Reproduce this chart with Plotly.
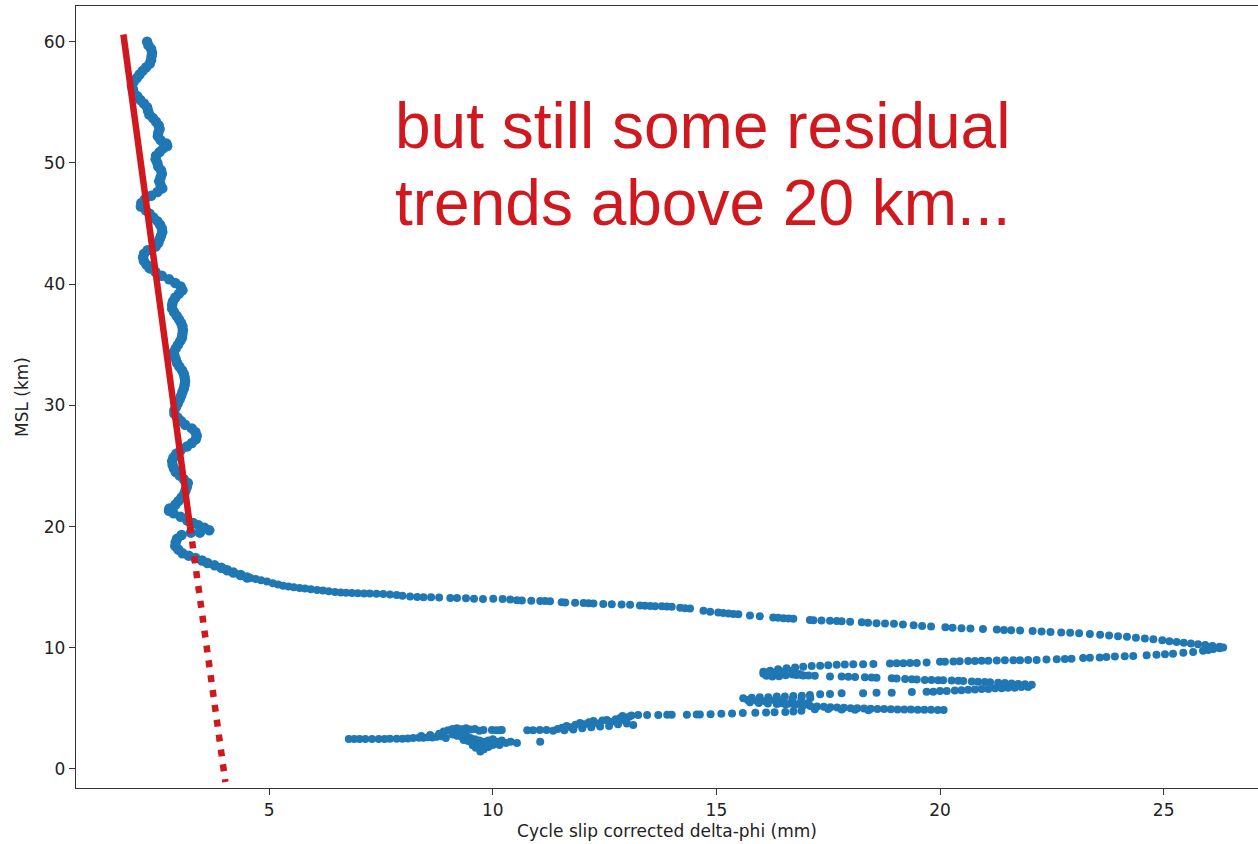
import plotly.graph_objects as go

# Delta-phi (mm) vs. altitude above mean sea level (km), listed as (x, y) along the profile
strat_track = [
    (2.27, 60.0), (2.30, 59.7), (2.36, 59.4), (2.38, 59.1), (2.37, 58.8), (2.36, 58.5),
    (2.33, 58.2), (2.25, 57.9), (2.17, 57.6), (2.10, 57.3), (2.04, 57.0), (1.97, 56.7),
    (1.93, 56.4), (1.95, 56.1), (1.97, 55.8), (2.05, 55.5), (2.12, 55.2), (2.20, 54.9),
    (2.27, 54.6), (2.29, 54.3), (2.32, 54.0), (2.40, 53.7), (2.47, 53.4), (2.53, 53.1),
    (2.55, 52.8), (2.52, 52.5), (2.51, 52.2), (2.57, 51.9), (2.70, 51.6), (2.72, 51.4),
    (2.63, 51.2), (2.55, 50.9), (2.47, 50.6), (2.46, 50.3), (2.50, 50.0), (2.52, 49.7),
    (2.58, 49.4), (2.60, 49.1), (2.57, 48.8), (2.54, 48.5), (2.57, 48.2), (2.61, 47.9),
    (2.50, 47.6), (2.36, 47.3), (2.22, 47.0), (2.14, 46.7), (2.13, 46.4), (2.24, 46.1),
    (2.33, 45.8), (2.41, 45.5), (2.50, 45.2), (2.56, 44.9), (2.60, 44.6), (2.61, 44.3),
    (2.58, 44.0), (2.55, 43.7), (2.52, 43.4), (2.46, 43.1), (2.28, 42.8), (2.20, 42.5),
    (2.18, 42.2), (2.20, 41.9), (2.26, 41.6), (2.33, 41.3), (2.46, 41.0), (2.60, 40.7),
    (2.76, 40.4), (2.90, 40.1), (3.02, 39.8), (3.06, 39.5), (2.98, 39.2), (2.90, 38.9),
    (2.85, 38.6), (2.83, 38.3), (2.83, 38.0), (2.87, 37.7), (2.93, 37.4), (2.98, 37.1),
    (3.03, 36.8), (3.06, 36.5), (3.07, 36.2), (3.06, 35.9), (3.05, 35.6), (3.01, 35.3),
    (2.96, 35.0), (2.91, 34.7), (2.87, 34.4), (2.88, 34.1), (2.91, 33.8), (2.94, 33.5),
    (2.99, 33.2), (3.05, 32.9), (3.09, 32.6), (3.11, 32.3), (3.12, 32.0), (3.11, 31.7),
    (3.09, 31.4), (3.06, 31.1), (3.03, 30.8), (3.00, 30.5), (2.96, 30.2), (2.92, 29.9),
    (2.88, 29.6), (2.88, 29.3), (2.95, 29.0), (3.03, 28.7), (3.12, 28.4), (3.27, 28.1),
    (3.35, 27.8), (3.38, 27.5), (3.36, 27.2), (3.27, 26.9), (3.16, 26.6), (3.02, 26.3),
    (2.92, 26.0), (2.86, 25.7), (2.83, 25.4), (2.84, 25.1), (2.87, 24.8), (2.91, 24.5),
    (3.00, 24.2), (3.09, 23.9), (3.18, 23.6), (3.16, 23.3), (3.13, 23.0), (3.10, 22.7),
    (3.04, 22.4), (2.97, 22.1), (2.90, 21.8), (2.77, 21.5), (2.76, 21.3), (2.86, 21.1),
    (3.02, 20.8), (3.17, 20.5), (3.30, 20.3), (3.42, 20.1), (3.55, 19.9), (3.66, 19.7),
    (3.45, 19.5), (3.25, 19.5), (3.04, 19.3), (2.94, 19.0), (2.91, 18.7), (2.90, 18.4),
    (2.97, 18.1), (3.06, 17.8), (3.20, 17.6), (3.35, 17.4), (3.50, 17.2), (3.62, 17.0),
    (3.78, 16.8), (3.93, 16.6), (4.06, 16.4), (4.20, 16.2), (4.36, 16.0), (4.51, 15.8),
]

outgoing_branch = [
    (4.58, 15.76), (4.70, 15.68), (4.82, 15.58), (4.95, 15.47), (5.08, 15.33), (5.20, 15.22),
    (5.31, 15.12), (5.43, 15.05), (5.55, 15.00), (5.68, 14.93), (5.80, 14.88), (5.93, 14.82),
    (6.07, 14.77), (6.20, 14.72), (6.33, 14.66), (6.47, 14.61), (6.60, 14.57), (6.72, 14.54),
    (6.85, 14.52), (6.98, 14.50), (7.12, 14.48), (7.25, 14.47), (7.40, 14.45), (7.55, 14.44),
    (7.70, 14.40), (7.85, 14.35), (7.98, 14.30), (8.15, 14.24), (8.31, 14.19), (8.45, 14.17),
    (8.62, 14.16), (8.80, 14.14), (9.05, 14.11), (9.20, 14.10), (9.40, 14.08), (9.58, 14.05),
    (9.78, 14.03), (10.01, 14.05), (10.22, 14.02), (10.39, 13.98), (10.54, 13.92), (10.65, 13.90),
    (10.86, 13.88), (11.06, 13.86), (11.17, 13.85), (11.28, 13.83), (11.54, 13.76), (11.62, 13.74),
    (11.84, 13.72), (12.03, 13.70), (12.14, 13.68), (12.25, 13.66), (12.47, 13.62), (12.66, 13.59),
    (12.88, 13.57), (13.07, 13.54), (13.29, 13.48), (13.40, 13.46), (13.52, 13.45), (13.63, 13.43),
    (13.78, 13.42), (13.89, 13.40), (14.00, 13.38), (14.19, 13.30), (14.30, 13.27), (14.41, 13.24),
    (14.71, 13.05), (14.86, 12.98), (15.04, 12.90), (15.15, 12.86), (15.27, 12.83), (15.38, 12.79),
    (15.49, 12.76), (15.75, 12.66), (15.97, 12.60), (16.27, 12.50), (16.38, 12.47), (16.50, 12.44),
    (16.61, 12.42), (16.72, 12.40), (17.09, 12.30), (17.17, 12.28), (17.35, 12.25), (17.54, 12.22),
    (17.69, 12.20), (17.80, 12.18), (17.99, 12.15), (18.25, 12.10), (18.39, 12.07), (18.58, 12.03),
    (18.77, 12.01), (18.97, 11.98), (19.17, 11.92), (19.41, 11.86), (19.60, 11.80), (19.80, 11.76),
    (20.12, 11.70), (20.28, 11.66), (20.48, 11.62), (20.68, 11.59), (20.96, 11.55), (21.27, 11.50),
    (21.43, 11.47), (21.59, 11.45), (21.79, 11.42), (22.07, 11.38), (22.27, 11.35), (22.47, 11.31),
    (22.71, 11.27), (22.91, 11.23), (23.11, 11.19), (23.35, 11.13), (23.58, 11.07), (23.78, 11.02),
    (23.98, 10.96), (24.18, 10.90), (24.38, 10.83), (24.58, 10.77), (24.77, 10.70), (24.97, 10.62),
    (25.13, 10.53), (25.29, 10.47), (25.45, 10.41), (25.61, 10.35), (25.77, 10.29), (25.93, 10.22),
    (26.09, 10.15), (26.25, 10.08), (26.33, 10.02),
]

return_branch = [
    (26.25, 9.95), (26.11, 9.90), (26.00, 9.82), (25.88, 9.76), (25.66, 9.66), (25.44, 9.58),
    (25.21, 9.51), (25.03, 9.46), (24.84, 9.43), (24.62, 9.38), (24.32, 9.32), (24.13, 9.30),
    (23.91, 9.27), (23.72, 9.24), (23.57, 9.19), (23.35, 9.17), (23.20, 9.15), (22.94, 9.10),
    (22.79, 9.08), (22.61, 9.05), (22.38, 9.03), (22.16, 9.00), (21.97, 8.99), (21.79, 8.98),
    (21.64, 8.97), (21.45, 8.96), (21.27, 8.94), (21.08, 8.93), (20.93, 8.92), (20.78, 8.91),
    (20.63, 8.90), (20.44, 8.88), (20.30, 8.87), (20.11, 8.85), (20.00, 8.84), (19.70, 8.78),
    (19.48, 8.75), (19.33, 8.74), (19.18, 8.73), (19.03, 8.72), (18.88, 8.71), (18.51, 8.67),
    (18.28, 8.65), (18.06, 8.63), (17.87, 8.61), (17.69, 8.59), (17.50, 8.55), (17.32, 8.52),
    (17.13, 8.49), (16.94, 8.44), (16.76, 8.37), (16.57, 8.31), (16.38, 8.22), (16.20, 8.11),
    (16.05, 8.03), (16.05, 7.85), (16.12, 7.70), (16.25, 7.62), (16.40, 7.66), (16.55, 7.74),
    (16.70, 7.80), (16.85, 7.84), (16.30, 7.95), (16.50, 8.05), (16.70, 8.10), (16.20, 7.80),
    (16.95, 7.72), (16.15, 7.95), (16.40, 7.85),
]

layer_7km = [
    (16.79, 7.76), (16.91, 7.74), (17.06, 7.72), (17.20, 7.70), (17.54, 7.62), (17.80, 7.62),
    (17.95, 7.60), (18.10, 7.58), (18.32, 7.56), (18.47, 7.55), (18.58, 7.53), (18.92, 7.48),
    (19.03, 7.47), (19.22, 7.42), (19.37, 7.40), (19.48, 7.38), (19.66, 7.35), (19.81, 7.34),
    (19.96, 7.33), (20.07, 7.32), (20.26, 7.29), (20.41, 7.28), (20.52, 7.26), (20.71, 7.22),
    (20.85, 7.20), (21.00, 7.18), (21.12, 7.16), (21.30, 7.12), (21.45, 7.09), (21.60, 7.06),
    (21.75, 7.02), (21.90, 6.98), (22.05, 6.94),
]

layer_6km = [
    (21.97, 6.77), (21.82, 6.76), (21.67, 6.71), (21.52, 6.70), (21.38, 6.66), (21.23, 6.65),
    (21.08, 6.60), (20.93, 6.59), (20.78, 6.55), (20.63, 6.54), (20.48, 6.49), (20.33, 6.48),
    (20.15, 6.44), (20.00, 6.43), (19.85, 6.38), (19.70, 6.37), (19.37, 6.35), (18.92, 6.29),
    (18.58, 6.29), (18.28, 6.24), (17.80, 6.24), (17.54, 6.19), (17.32, 6.16), (17.09, 6.10),
    (16.91, 6.05), (16.72, 6.02), (16.53, 5.97), (16.35, 5.97), (16.16, 5.91), (15.97, 5.91),
    (15.79, 5.88), (15.60, 5.83), (15.70, 5.70), (15.90, 5.62), (16.10, 5.58), (16.30, 5.66),
    (16.50, 5.72), (16.70, 5.76), (16.90, 5.80), (17.10, 5.85), (16.45, 5.45), (16.65, 5.40),
    (16.85, 5.38), (17.05, 5.42),
]

layer_5km = [
    (15.75, 5.50), (15.95, 5.45), (16.15, 5.40), (16.35, 5.36), (16.55, 5.32), (16.75, 5.28),
    (16.95, 5.25), (17.10, 5.20), (17.25, 5.16), (17.40, 5.13), (17.55, 5.10), (17.70, 5.07),
    (17.85, 5.05), (18.00, 5.02), (18.15, 5.00), (18.30, 4.98), (18.45, 4.97), (18.60, 4.95),
    (18.75, 4.94), (18.90, 4.92), (19.05, 4.91), (19.20, 4.90), (19.35, 4.90), (19.50, 4.89),
    (19.65, 4.88), (19.80, 4.88), (19.95, 4.87), (20.08, 4.87), (17.20, 4.92), (17.50, 4.95),
    (17.80, 4.90), (18.10, 4.88), (18.40, 4.85), (16.90, 4.80), (16.72, 4.74), (16.54, 4.70),
    (16.30, 4.68), (16.11, 4.66), (15.87, 4.64), (15.59, 4.61), (15.35, 4.58), (15.11, 4.55),
    (14.87, 4.52), (14.63, 4.50),
]

boundary_layer = [
    (14.56, 4.49), (14.34, 4.48), (14.00, 4.47), (13.90, 4.47), (13.70, 4.46), (13.45, 4.45),
    (13.25, 4.45), (13.10, 4.42), (12.90, 4.38), (13.05, 4.30), (12.85, 4.20), (12.75, 4.10),
    (12.95, 4.00), (12.65, 3.90), (12.55, 4.05), (12.45, 4.00), (12.35, 3.75), (12.25, 3.95),
    (12.15, 3.85), (12.05, 3.70), (11.95, 3.80), (11.85, 3.65), (11.75, 3.45), (11.65, 3.55),
    (11.55, 3.40), (11.45, 3.30), (11.35, 3.15), (13.14, 3.62), (13.00, 3.75), (12.80, 3.70),
    (12.60, 3.55), (12.40, 3.50), (12.20, 3.45), (12.00, 3.35), (11.80, 3.25), (11.60, 3.20),
    (11.20, 3.22), (11.05, 3.21), (10.90, 3.20), (10.77, 3.20), (11.06, 2.25), (10.54, 2.15),
    (10.20, 3.22), (10.08, 3.20), (10.16, 3.20), (9.98, 3.22), (9.79, 3.22), (9.70, 3.15),
    (9.60, 3.30), (9.50, 3.25), (9.40, 3.35), (9.30, 3.28), (9.20, 3.35), (9.10, 3.30),
    (9.00, 3.20), (8.90, 3.10), (9.10, 2.85), (9.20, 2.75), (9.30, 2.65), (9.40, 2.80),
    (9.50, 2.55), (9.60, 2.45), (9.70, 2.35), (9.80, 2.25), (9.90, 2.35), (10.00, 2.45),
    (10.10, 2.25), (10.20, 2.35), (10.30, 2.15), (10.40, 2.25), (9.35, 2.40), (9.45, 2.30),
    (9.55, 1.95), (9.62, 1.75), (9.72, 1.45), (9.80, 1.62), (9.90, 1.82), (10.00, 1.98),
    (9.60, 2.10), (9.85, 2.00), (10.15, 1.98), (9.70, 1.90), (8.95, 2.55), (8.80, 2.90),
    (8.60, 2.80), (8.40, 2.72), (8.85, 2.70), (8.75, 2.66), (8.65, 2.60), (8.55, 2.62),
    (8.45, 2.58), (8.35, 2.57), (8.22, 2.55), (8.10, 2.52), (7.98, 2.50), (7.85, 2.50),
    (7.70, 2.49), (7.58, 2.47), (7.45, 2.48), (7.30, 2.48), (7.15, 2.47), (7.02, 2.48),
    (6.90, 2.47), (6.78, 2.47),
]

# Linear trend fitted above 20 km, and its extension below
trend_fit = [(1.74, 60.6), (3.23, 20.0)]
trend_extension = [(3.23, 20.0), (4.02, -1.07)]

x_ticks = [5, 10, 15, 20, 25]
y_ticks = [0, 10, 20, 30, 40, 50, 60]

note_lines = ["but still some residual", "trends above 20 km..."]

lower_profile = (outgoing_branch + return_branch + layer_7km
                 + layer_6km + layer_5km + boundary_layer)

BLUE = "#1f77b4"
RED = "#d0191f"
AXIS = "#333333"
TEXT = "#222222"

fig = go.Figure()

# Densely sampled stratospheric samples merge into a thick trail
fig.add_trace(go.Scatter(
    x=[p[0] for p in strat_track],
    y=[p[1] for p in strat_track],
    mode="markers",
    marker=dict(color=BLUE, size=10.5, line=dict(width=0)),
    showlegend=False,
    hoverinfo="skip",
))

fig.add_trace(go.Scatter(
    x=[p[0] for p in lower_profile],
    y=[p[1] for p in lower_profile],
    mode="markers",
    marker=dict(color=BLUE, size=8, line=dict(width=0)),
    showlegend=False,
    hoverinfo="skip",
))

fig.add_trace(go.Scatter(
    x=[p[0] for p in trend_fit],
    y=[p[1] for p in trend_fit],
    mode="lines",
    line=dict(color=RED, width=6.5),
    showlegend=False,
    hoverinfo="skip",
))

fig.add_trace(go.Scatter(
    x=[p[0] for p in trend_extension],
    y=[p[1] for p in trend_extension],
    mode="lines",
    line=dict(color=RED, width=6.5, dash="7px,8px"),
    showlegend=False,
    hoverinfo="skip",
))

note_y = [0.798, 0.6995]
for text, yy in zip(note_lines, note_y):
    fig.add_annotation(
        text=text,
        xref="paper", yref="paper",
        x=0.2683, y=yy,
        xanchor="left", yanchor="bottom",
        showarrow=False,
        font=dict(family="Liberation Sans, Arial, sans-serif", size=64, color=RED),
    )

fig.update_layout(
    width=1258,
    height=844,
    margin=dict(l=76, r=0, t=6, b=56),
    plot_bgcolor="white",
    paper_bgcolor="white",
    font=dict(family="DejaVu Sans, sans-serif", size=17, color=TEXT),
    xaxis=dict(
        range=[0.68, 27.11],
        tickvals=x_ticks,
        ticktext=[str(v) for v in x_ticks],
        ticks="outside", ticklen=6, tickwidth=1.3, tickcolor=AXIS,
        showline=True, linecolor=AXIS, linewidth=1.3, mirror=True,
        showgrid=False, zeroline=False,
        title=dict(text="Cycle slip corrected delta-phi (mm)", standoff=6,
                   font=dict(size=17)),
    ),
    yaxis=dict(
        range=[-1.57, 62.95],
        tickvals=y_ticks,
        ticktext=[str(v) for v in y_ticks],
        ticks="outside", ticklen=6, tickwidth=1.3, tickcolor=AXIS,
        showline=True, linecolor=AXIS, linewidth=1.3, mirror=False,
        showgrid=False, zeroline=False,
        title=dict(text="MSL (km)", standoff=10, font=dict(size=17)),
    ),
)

fig.write_html("out.html")
